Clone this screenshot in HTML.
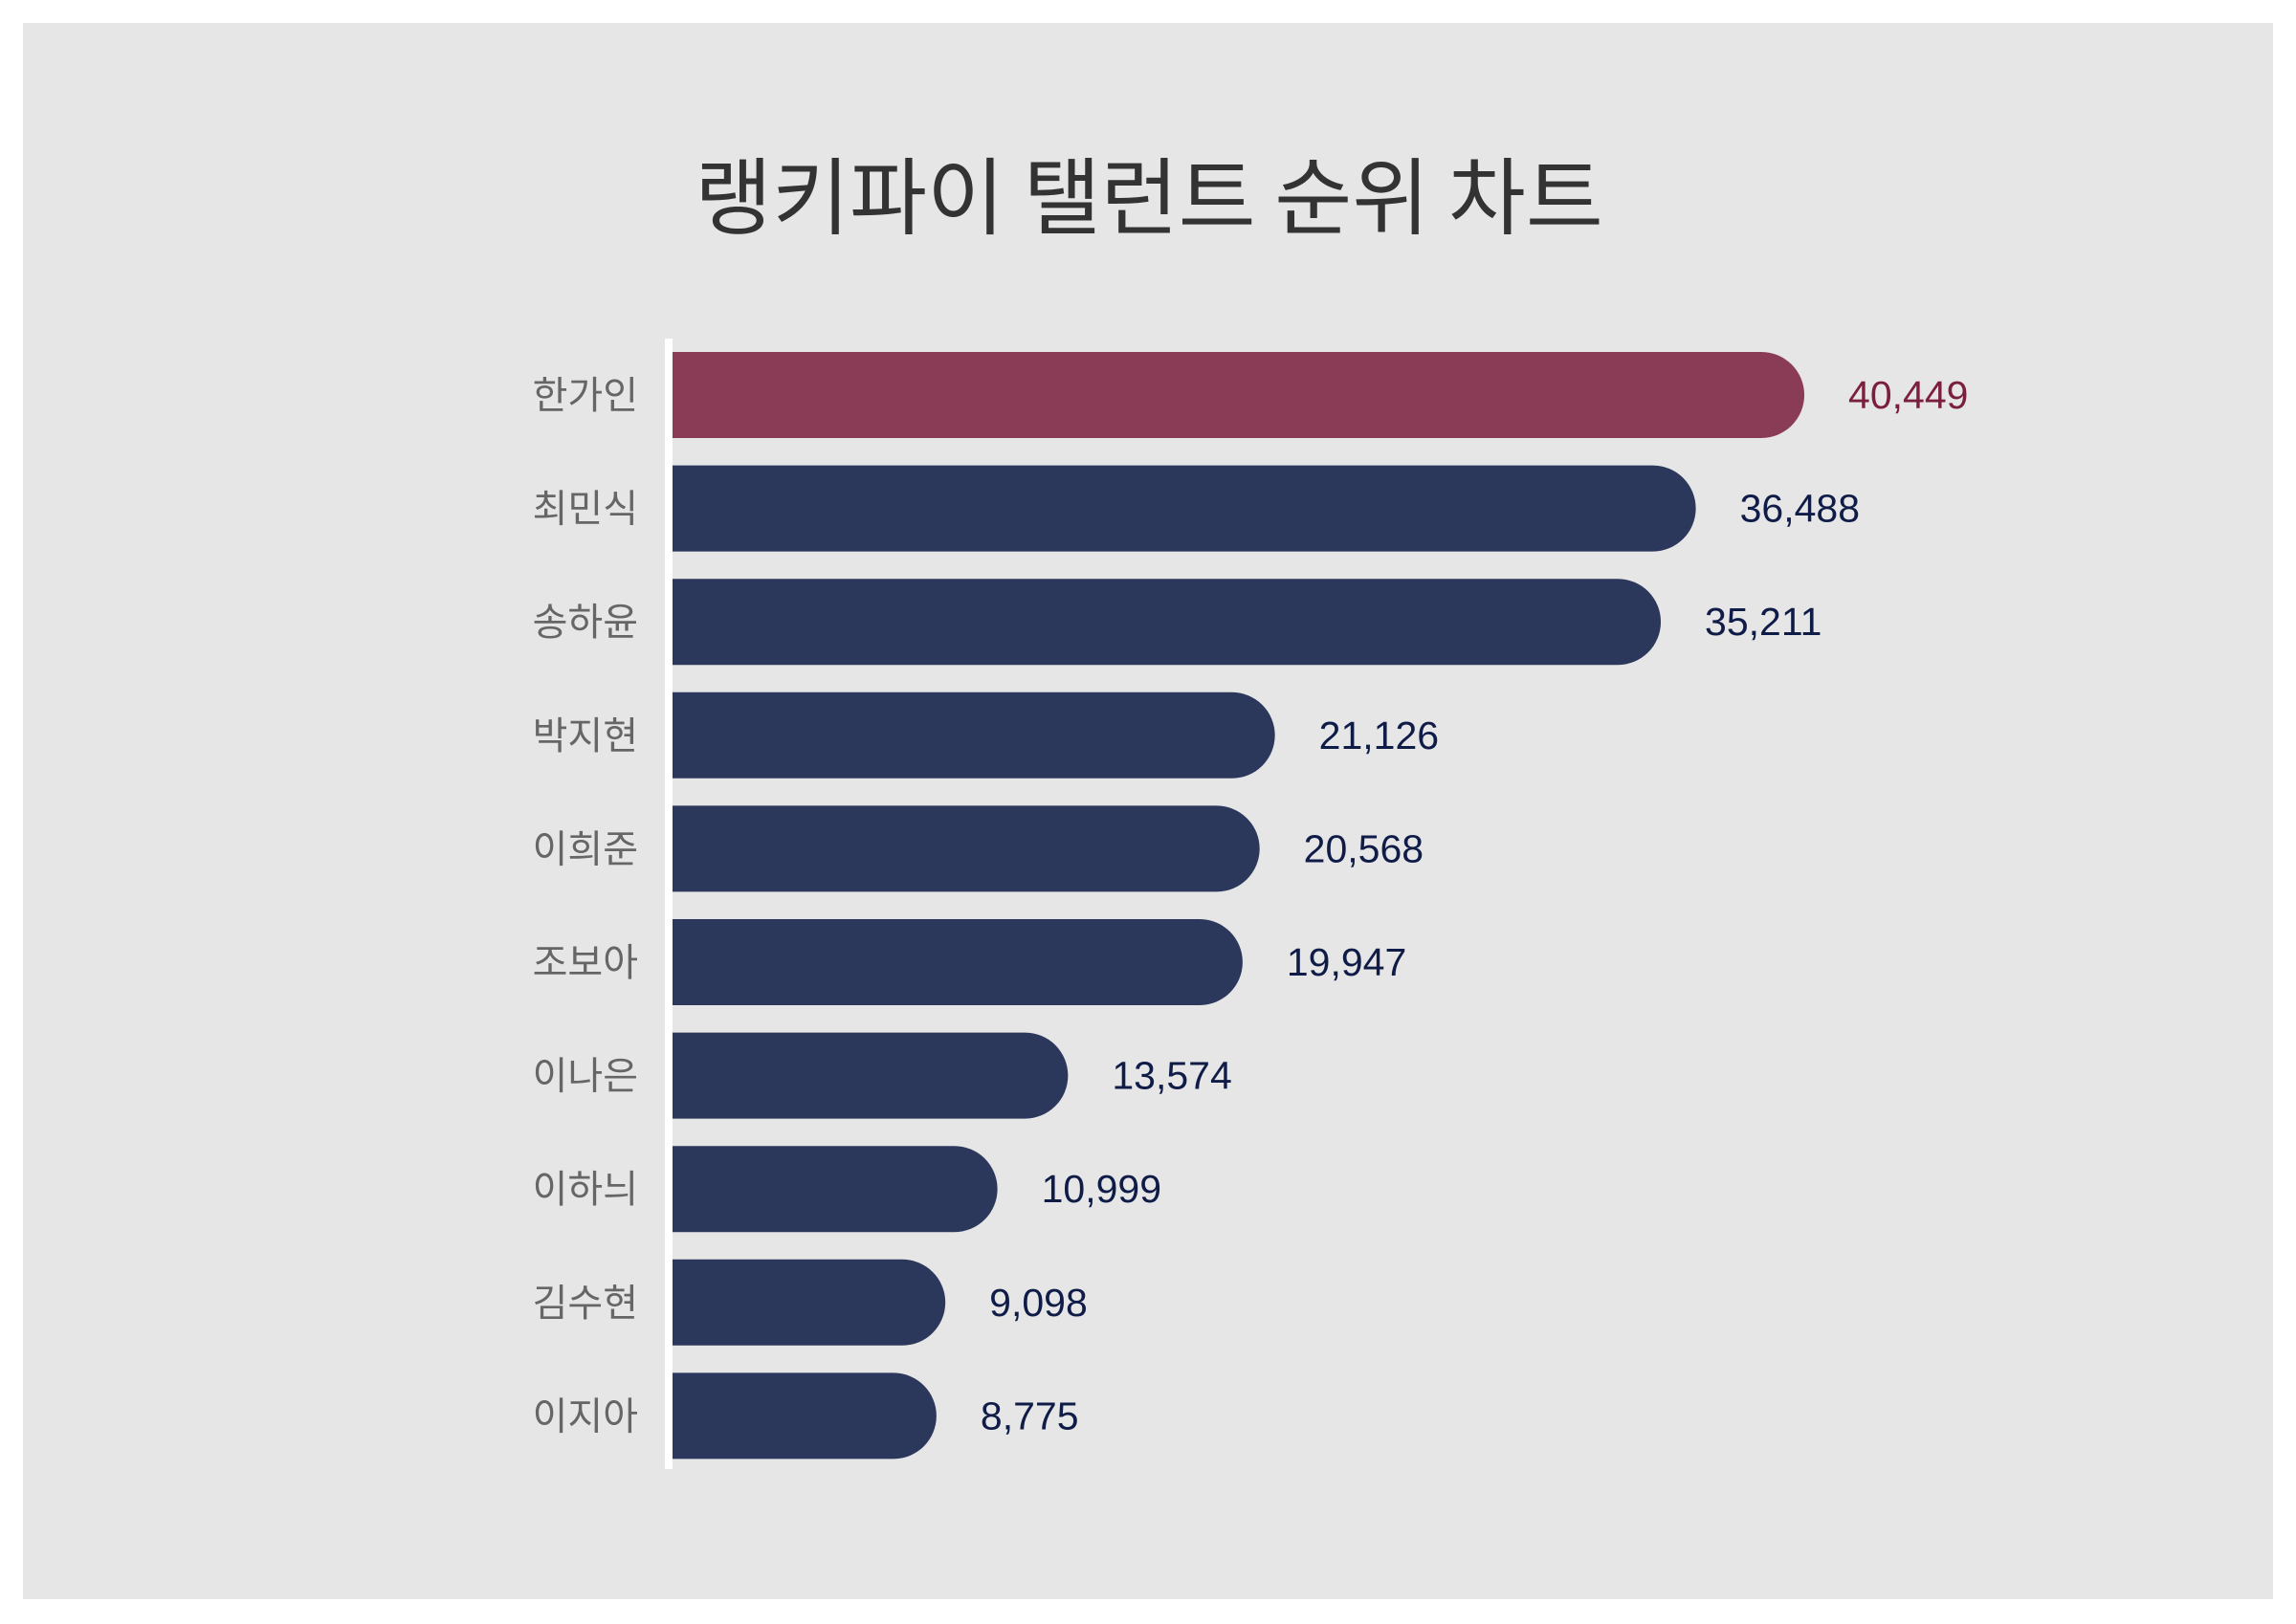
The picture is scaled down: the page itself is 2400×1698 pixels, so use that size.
<!DOCTYPE html>
<html><head><meta charset="utf-8"><style>
html,body{margin:0;padding:0;background:#fff}
svg{display:block}
text{font-family:"Liberation Sans","Noto Sans CJK KR",sans-serif}
</style></head><body>
<svg id="chart" width="2400" height="1698" viewBox="0 0 2400 1698" xmlns="http://www.w3.org/2000/svg">
<rect x="24" y="24" width="2352" height="1648" fill="#e6e6e6"/>
<text x="1201" y="238" text-anchor="middle" font-size="88" fill="#333" style="font-family:'Noto Sans CJK KR',sans-serif">랭키파이 탤런트 순위 차트</text>
<g id="bars"></g>
<rect x="695" y="354" width="8" height="1182" fill="#ffffff"/>
</svg>
<script>
const names = ["한가인","최민식","송하윤","박지현","이희준","조보아","이나은","이하늬","김수현","이지아"];
const values = [40449,36488,35211,21126,20568,19947,13574,10999,9098,8775];
const valueLabels = ["40,449","36,488","35,211","21,126","20,568","19,947","13,574","10,999","9,098","8,775"];

const NS = "http://www.w3.org/2000/svg";
const g = document.getElementById("bars");
const x0 = 703, xOff = 24.6, k = 0.02864;
function xScale(v){ return x0 + xOff + v * k; }
const top0 = 368, pitch = 118.6, bh = 90, r = 45;
function yScale(i){ return top0 + i * pitch; }

values.forEach((v, i) => {
  const y = yScale(i), xe = xScale(v);
  const hi = i === 0;
  const p = document.createElementNS(NS, "path");
  p.setAttribute("d", `M${x0},${y} H${xe - r} A${r},${r} 0 0 1 ${xe - r},${y + bh} H${x0} Z`);
  p.setAttribute("fill", hi ? "#8a3c57" : "#2c375c");
  
  
  g.appendChild(p);

  const lab = document.createElementNS(NS, "text");
  lab.setAttribute("x", 667);
  lab.setAttribute("y", y + bh / 2 + 14);
  lab.setAttribute("text-anchor", "end");
  lab.setAttribute("font-size", "40");
  lab.setAttribute("fill", "#666");
  lab.textContent = names[i];
  
  
  g.appendChild(lab);

  const vl = document.createElementNS(NS, "text");
  vl.setAttribute("x", xe + 46);
  vl.setAttribute("y", y + bh / 2 + 14);
  vl.setAttribute("font-size", "41");
  vl.setAttribute("fill", hi ? "#7a1f3d" : "#0f1c48");
  vl.textContent = valueLabels[i];
  
  
  g.appendChild(vl);
});
</script>
</body></html>
